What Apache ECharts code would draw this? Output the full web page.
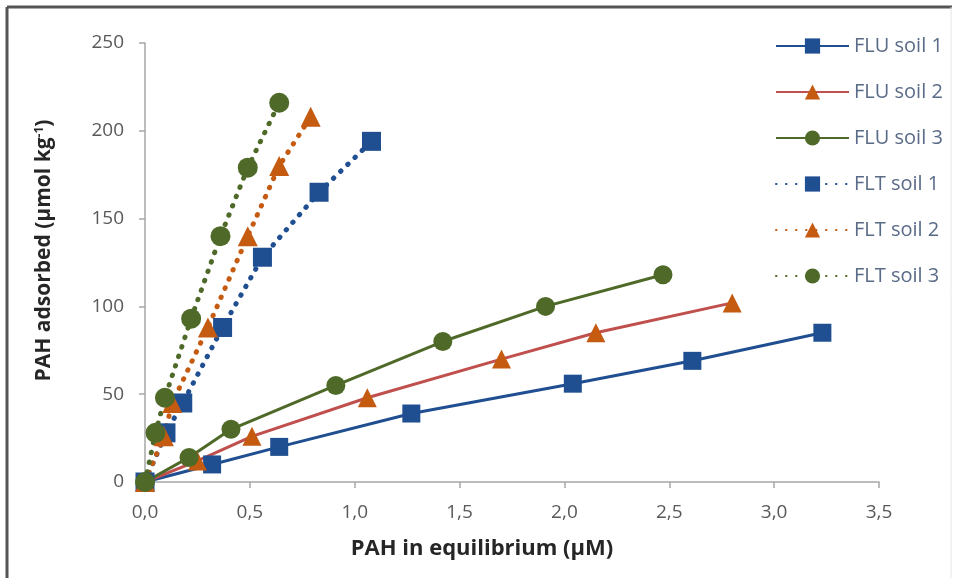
<!DOCTYPE html>
<html>
<head>
<meta charset="utf-8">
<script src="https://cdn.jsdelivr.net/npm/echarts@6/dist/echarts.min.js"></script>
<style>
html,body{margin:0;padding:0;background:#fff;}
#chart{width:957px;height:581px;}
</style>
</head>
<body>
<div id="chart"></div>
<script>
// Data: [PAH in equilibrium (µM), PAH adsorbed (µmol kg-1)]
const fluSoil1 = [[0,0],[0.32,10],[0.64,20],[1.27,39],[2.04,56],[2.61,69],[3.23,85]];
const fluSoil2 = [[0,0],[0.25,12],[0.51,26],[1.06,48],[1.70,70],[2.15,85],[2.80,102]];
const fluSoil3 = [[0,0],[0.21,14],[0.41,30],[0.91,55],[1.42,80],[1.91,100],[2.47,118]];
const fltSoil1 = [[0,0],[0.10,28],[0.18,45],[0.37,88],[0.56,128],[0.83,165],[1.08,194]];
const fltSoil2 = [[0,0],[0.09,26],[0.13,45],[0.30,88],[0.49,140],[0.64,180],[0.79,208]];
const fltSoil3 = [[0,0],[0.05,28],[0.095,48],[0.22,93],[0.36,140],[0.49,179],[0.64,216]];
const seriesNames = ['FLU soil 1','FLU soil 2','FLU soil 3','FLT soil 1','FLT soil 2','FLT soil 3'];
const xTickLabels = ['0,0','0,5','1,0','1,5','2,0','2,5','3,0','3,5'];
const yTickLabels = ['0','50','100','150','200','250'];

const FONT = '"Open Sans", Lato, sans-serif';
const blue = '#1f4e91', orange = '#c55a11', orangeLine = '#c0504d', green = '#4f6a28';

function mk(name, data, symbol, size, color, lineColor, dotted) {
  return {
    name: name, type: 'line', data: data,
    symbol: symbol, symbolSize: size,
    itemStyle: {color: color},
    lineStyle: dotted
      ? {color: color, width: 5, type: [0.5, 9.5], cap: 'round'}
      : {color: lineColor, width: 3},
    emphasis: {disabled: true},
    animation: false
  };
}

const chart = echarts.init(document.getElementById('chart'));
chart.setOption({
  backgroundColor: '#fff',
  animation: false,
  textStyle: {fontFamily: FONT},
  grid: {left: 145, right: 78, top: 43, bottom: 99, containLabel: false},
  xAxis: {
    type: 'value', min: 0, max: 3.5, interval: 0.5,
    name: 'PAH in equilibrium (µM)', nameLocation: 'middle', nameGap: 56,
    nameTextStyle: {fontFamily: FONT, fontSize: 22, fontWeight: 'bold', color: '#262626', padding: [0, 60, 0, 0]},
    axisLine: {show: true, lineStyle: {color: '#a6a6a6', width: 1.5}},
    axisTick: {show: true, inside: false, length: 6, lineStyle: {color: '#a6a6a6', width: 1.5}},
    axisLabel: {margin: 21, fontSize: 19, color: '#595959', fontFamily: FONT,
      formatter: function (v) { return xTickLabels[Math.round(v / 0.5)]; }},
    splitLine: {show: false}
  },
  yAxis: {
    type: 'value', min: 0, max: 250, interval: 50,
    name: 'PAH adsorbed (µmol kg{sup|-1})', nameLocation: 'middle', nameGap: 90,
    nameTextStyle: {fontFamily: FONT, fontSize: 21, fontWeight: 'bold', color: '#262626', padding: [0, 0, 0, 24],
      rich: {sup: {fontFamily: FONT, fontSize: 12, fontWeight: 'bold', color: '#262626', verticalAlign: 'top', lineHeight: 21, padding: [0,0,8,0]}}},
    axisLine: {show: true, lineStyle: {color: '#a6a6a6', width: 1.5}},
    axisTick: {show: true, inside: false, length: 6, lineStyle: {color: '#a6a6a6', width: 1.5}},
    axisLabel: {margin: 21, fontSize: 19, color: '#595959', fontFamily: FONT,
      formatter: function (v) { return yTickLabels[Math.round(v / 50)]; }},
    splitLine: {show: false}
  },
  legend: {
    orient: 'vertical', left: 770, top: 31,
    itemWidth: 73, itemHeight: 19, itemGap: 26,
    data: seriesNames,
    textStyle: {fontFamily: FONT, fontSize: 20, color: '#5a6b88'}
  },
  graphic: [
    {type: 'line', shape: {x1: 7, y1: 7, x2: 952, y2: 7}, style: {stroke: '#555', lineWidth: 3}, silent: true},
    {type: 'line', shape: {x1: 7, y1: 7, x2: 7, y2: 578}, style: {stroke: '#555', lineWidth: 3}, silent: true},
    {type: 'line', shape: {x1: 951, y1: 7, x2: 951, y2: 578}, style: {stroke: '#e6e6e6', lineWidth: 1}, silent: true}
  ],
  series: [
    mk(seriesNames[0], fluSoil1, 'rect', 18, blue, blue, false),
    mk(seriesNames[1], fluSoil2, 'triangle', 19, orange, orangeLine, false),
    mk(seriesNames[2], fluSoil3, 'circle', 19, green, green, false),
    mk(seriesNames[3], fltSoil1, 'rect', 19, blue, blue, true),
    mk(seriesNames[4], fltSoil2, 'triangle', 20, orange, orange, true),
    mk(seriesNames[5], fltSoil3, 'circle', 20, green, green, true)
  ]
});
</script>
</body>
</html>
